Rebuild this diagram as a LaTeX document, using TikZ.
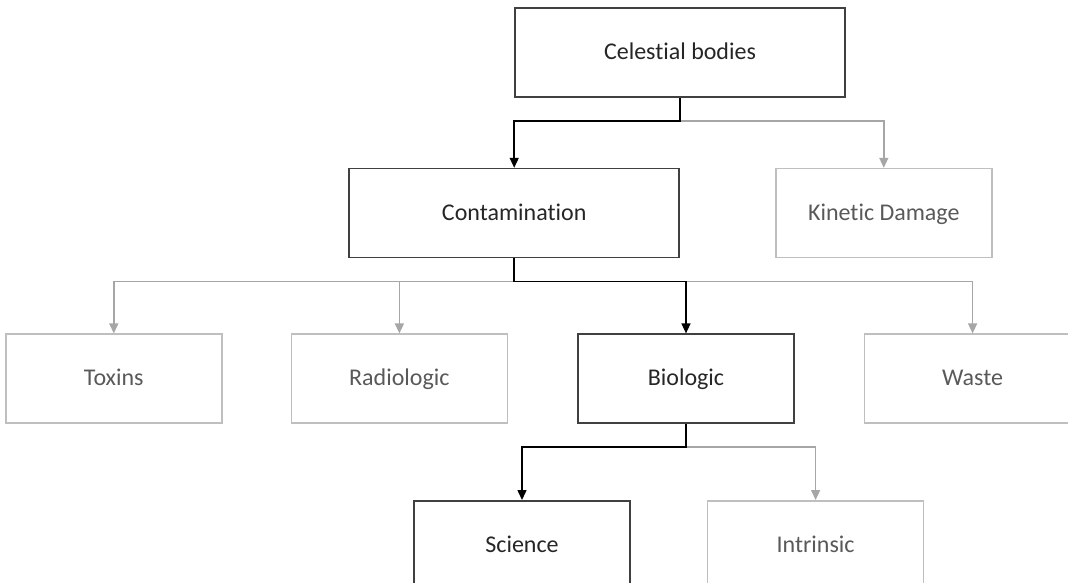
\documentclass[tikz,border=0pt]{standalone}
\usepackage{fontspec}
\setmainfont[Ligatures=NoCommon]{Carlito}
\usetikzlibrary{arrows.meta,positioning}
\definecolor{edgedark}{HTML}{404040}
\definecolor{edgelight}{HTML}{BFBFBF}
\definecolor{txtdark}{HTML}{262626}
\definecolor{txtlight}{HTML}{595959}
\definecolor{linelight}{HTML}{A6A6A6}
\begin{document}
\begin{tikzpicture}[x=1pt, y=1pt, font=\fontsize{24}{28}\selectfont,
  main/.style={draw=edgedark, line width=1.6pt, text=txtdark, inner sep=0pt,
               text height=19pt, text depth=5pt,
               minimum width=216pt, minimum height=89pt},
  side/.style={main, draw=edgelight, text=txtlight},
  wide/.style={minimum width=330pt},
  link/.style={-{Triangle[length=10pt, width=9pt]}, line width=1.5pt, black},
  faint/.style={link, linelight}]
\useasboundingbox (0,0) rectangle (1068,-583);
\clip (0,0) rectangle (1068,-583);
\node[main, wide] (cel) at (680,-52.5) {Celestial bodies};
\node[main, wide, below=70pt of cel.south west] (con) {Contamination};
\node[side, right=95pt of con] (kin) {Kinetic Damage};
\node[main, below=75pt of con.south east, xshift=6pt] (bio) {Biologic};
\node[side, left=69pt of bio] (rad) {Radiologic};
\node[side, left=68pt of rad] (tox) {Toxins};
\node[side, right=69pt of bio] (was) {Waste};
\node[main, below=76pt of bio, xshift=-164pt] (sci) {Science};
\node[side, right=76pt of sci] (int) {Intrinsic};
% grey branches first, black path on top
\draw[faint] (cel.south) -- ++(0,-23) -| (kin.north);
\draw[link] (cel.south) -- ++(0,-23) -| (con.north);
\draw[faint] (con.south) -- ++(0,-23) -| (tox.north);
\draw[faint] (con.south) -- ++(0,-23) -| (rad.north);
\draw[faint] (con.south) -- ++(0,-23) -| (was.north);
\draw[link] (con.south) -- ++(0,-23) -| (bio.north);
\draw[faint] (bio.south) -- ++(0,-23) -| (int.north);
\draw[link] (bio.south) -- ++(0,-23) -| (sci.north);
\end{tikzpicture}
\end{document}
